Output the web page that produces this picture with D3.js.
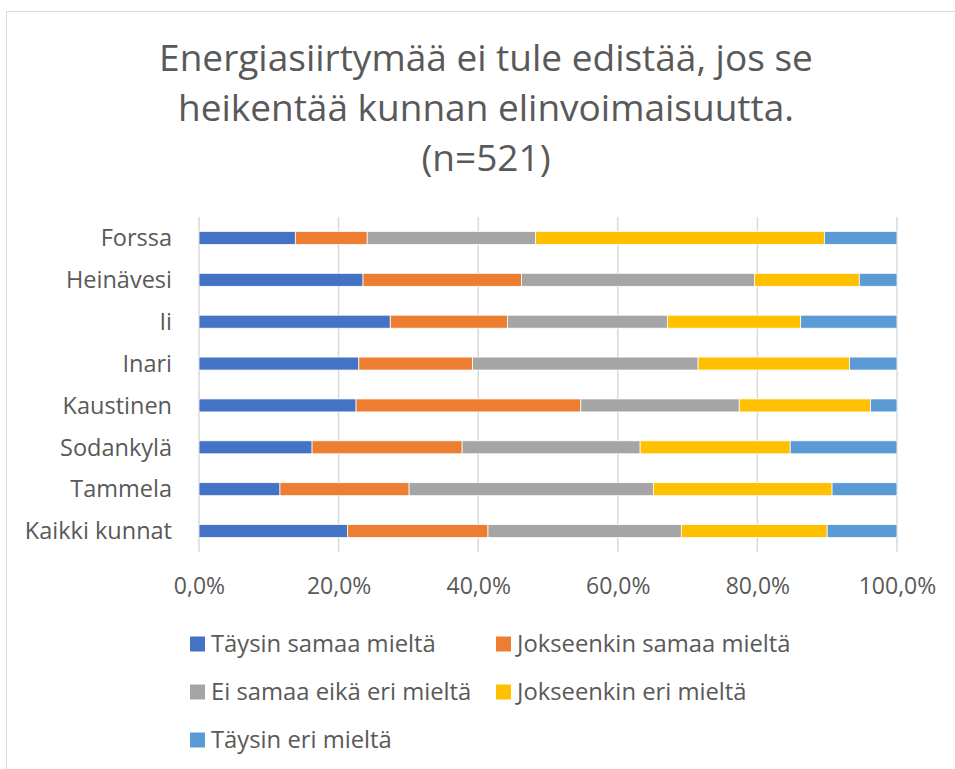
<!DOCTYPE html>
<html>
<head>
<meta charset="utf-8">
<script src="https://cdn.jsdelivr.net/npm/d3@7"></script>
<style>
  body { margin: 0; background: #fff; }
  text { font-family: "Open Sans", sans-serif; fill: #595959; }
</style>
</head>
<body>
<div id="chart"></div>
<script>
// data (percent of answers)
const categories = ["Forssa", "Heinävesi", "Ii", "Inari", "Kaustinen", "Sodankylä", "Tammela", "Kaikki kunnat"];
const seriesNames = ["Täysin samaa mieltä", "Jokseenkin samaa mieltä", "Ei samaa eikä eri mieltä", "Jokseenkin eri mieltä", "Täysin eri mieltä"];
const taysinSamaa = [13.8, 23.5, 27.4, 22.9, 22.5, 16.2, 11.6, 21.3];
const jokseenkinSamaa = [10.3, 22.7, 16.8, 16.3, 32.2, 21.5, 18.5, 20.1];
const eiSamaaEikaEri = [24.1, 33.4, 22.9, 32.3, 22.7, 25.5, 35.0, 27.7];
const jokseenkinEri = [41.4, 15.0, 19.1, 21.7, 18.8, 21.5, 25.6, 20.9];
const taysinEri = [10.4, 5.4, 13.8, 6.8, 3.8, 15.3, 9.3, 10.0];
const tickValues = [0, 20, 40, 60, 80, 100];
const colors = ["#4472C4", "#ED7D31", "#A5A5A5", "#FFC000", "#5B9BD5"];
const titleLines = ["Energiasiirtymää ei tule edistää, jos se", "heikentää kunnan elinvoimaisuutta.", "(n=521)"];

const width = 955, height = 769;
const svg = d3.select("#chart").append("svg")
    .attr("width", width)
    .attr("height", height);

// chart border
svg.append("rect")
    .attr("x", 6.5).attr("y", 11.5)
    .attr("width", 1000).attr("height", 1000)
    .attr("fill", "none")
    .attr("stroke", "#d9d9d9");

// title
svg.append("g").selectAll("text")
    .data(titleLines)
    .enter().append("text")
    .attr("x", 486)
    .attr("y", (d, i) => 71 + i * 50)
    .attr("text-anchor", "middle")
    .attr("font-size", "37px")
    .text(d => d);

const x = d3.scaleLinear().domain([0, 100]).range([199, 897]);
const y = d3.scaleBand().domain(categories).range([217, 552]).paddingInner(0.69).paddingOuter(0.345);

// gridlines
svg.append("g").selectAll("line")
    .data(tickValues)
    .enter().append("line")
    .attr("x1", d => x(d)).attr("x2", d => x(d))
    .attr("y1", 217).attr("y2", 552)
    .attr("stroke", "#d9d9d9")
    .attr("stroke-width", 1.5);

// x tick labels
const xAxis = d3.axisBottom(x)
    .tickValues(tickValues)
    .tickSize(0)
    .tickPadding(0)
    .tickFormat(d => d3.format(".1f")(d).replace(".", ",") + "%");
const gx = svg.append("g")
    .attr("transform", "translate(0,594)")
    .call(xAxis);
gx.select(".domain").remove();
gx.selectAll("text")
    .attr("dy", 0)
    .attr("y", 0)
    .attr("font-size", "23px")
    .attr("font-family", "Open Sans, sans-serif")
    .attr("fill", "#595959");

// category labels
const yAxis = d3.axisLeft(y).tickSize(0).tickPadding(0);
const gy = svg.append("g")
    .attr("transform", "translate(172,0)")
    .call(yAxis);
gy.select(".domain").remove();
gy.selectAll("text")
    .attr("dy", "0.35em")
    .attr("font-size", "23.5px")
    .attr("font-family", "Open Sans, sans-serif")
    .attr("fill", "#595959");

// stacked bars
const rows = categories.map((c, i) => ({
    category: c,
    s0: taysinSamaa[i], s1: jokseenkinSamaa[i], s2: eiSamaaEikaEri[i], s3: jokseenkinEri[i], s4: taysinEri[i]
}));
const stack = d3.stack().keys(["s0", "s1", "s2", "s3", "s4"]);
const layers = stack(rows);

svg.append("g").selectAll("g")
    .data(layers)
    .enter().append("g")
    .attr("fill", (d, i) => colors[i])
    .selectAll("rect")
    .data(d => d)
    .enter().append("rect")
    .attr("x", d => x(d[0]))
    .attr("width", d => x(d[1]) - x(d[0]))
    .attr("y", d => y(d.data.category))
    .attr("height", y.bandwidth())
    .attr("stroke", "#fff")
    .attr("stroke-width", 0.75);

// legend
const legendPos = [[190, 644], [496, 644], [190, 692], [496, 692], [190, 740]];
const legend = svg.append("g").selectAll("g")
    .data(seriesNames)
    .enter().append("g")
    .attr("transform", (d, i) => "translate(" + legendPos[i][0] + "," + legendPos[i][1] + ")");
legend.append("rect")
    .attr("x", 0).attr("y", -7.5)
    .attr("width", 15).attr("height", 15)
    .attr("fill", (d, i) => colors[i]);
legend.append("text")
    .attr("x", 21)
    .attr("dy", "0.35em")
    .attr("font-size", "23.8px")
    .text(d => d);
</script>
</body>
</html>
